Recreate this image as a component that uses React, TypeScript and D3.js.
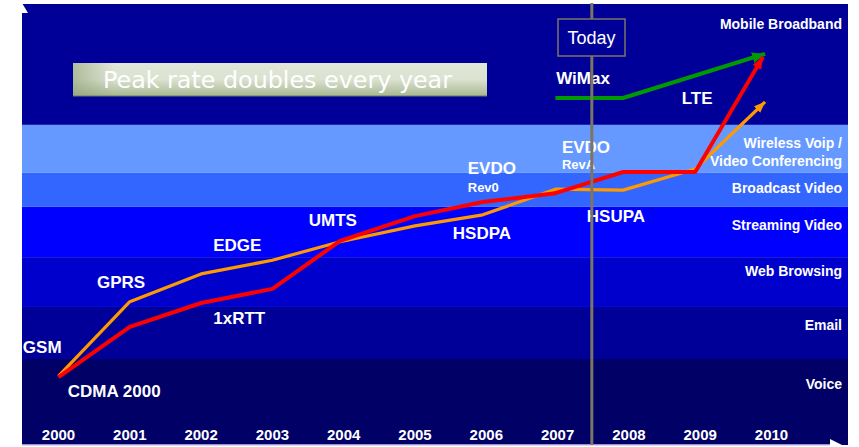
import React from "react";
import * as d3 from "d3";

const W = 859;
const H = 447;

// x-axis tick labels
const yearTicks = [2000, 2001, 2002, 2003, 2004, 2005, 2006, 2007, 2008, 2009, 2010];

// application bands (value scale 0-100, bottom to top)
const bandNames = ["Voice", "Email", "Web Browsing", "Streaming Video", "Broadcast Video", "Wireless Voip /\nVideo Conferencing", "Mobile Broadband"];
const bandLower = [0, 19.5, 31.3, 42.6, 54.0, 61.7, 72.6];
const bandUpper = [19.5, 31.3, 42.6, 54.0, 61.7, 72.6, 100];
const bandColors = ["#000066", "#000099", "#0000CC", "#0000FF", "#3366FF", "#6699FF", "#000099"];
const bandLabelValue = [12.8, 26.1, 38.4, 48.8, 57.1, 67.4, 94.4];

// GSM family (orange)
const gsmYears = [2000, 2001, 2002, 2003, 2003.95, 2005, 2005.95, 2006.97, 2007.92, 2008.93, 2009.91];
const gsmValues = [15.6, 32.5, 38.8, 41.9, 46.1, 49.7, 52.2, 58.0, 57.8, 62.6, 77.8];

// CDMA family (red)
const cdmaYears = [2000, 2001, 2002, 2003, 2003.95, 2005, 2005.95, 2006.97, 2007.92, 2008.93, 2009.88];
const cdmaValues = [15.4, 26.8, 32.2, 35.4, 46.3, 51.9, 55.1, 57.1, 61.9, 61.9, 88.0];

// WiMax (green)
const wimaxYears = [2006.97, 2007.92, 2009.91];
const wimaxValues = [78.7, 78.7, 88.7];

// technology labels (anchored at year / value)
const techNames = ["GSM", "CDMA 2000", "GPRS", "1xRTT", "EDGE", "UMTS", "HSDPA", "EVDO", "Rev0", "EVDO", "RevA", "HSUPA", "WiMax", "LTE"];
const techYears = [1999.5, 2000.13, 2000.54, 2002.17, 2002.17, 2003.51, 2005.53, 2005.74, 2005.74, 2007.06, 2007.06, 2007.41, 2006.98, 2008.74];
const techValues = [20.9, 10.9, 35.6, 27.4, 44.0, 49.7, 46.7, 61.5, 57.4, 66.2, 62.6, 50.6, 81.9, 77.3];
const techSmall = [false, false, false, false, false, false, false, false, true, false, true, false, false, false];

const todayYear = 2007.48;
const headline = "Peak rate doubles every year";

export default function App() {
  const left = 22;
  const right = 848;
  const top = 4;
  const bottom = 445;

  const x = d3.scaleLinear().domain([2000, 2010]).range([58.5, 771.5]);
  const y = d3.scaleLinear().domain([0, 100]).range([bottom, top]);

  const line = d3
    .line<[number, number]>()
    .x((d) => x(d[0]))
    .y((d) => y(d[1]));

  const gsm = line(gsmYears.map((yr, i) => [yr, gsmValues[i]]));
  const cdma = line(cdmaYears.map((yr, i) => [yr, cdmaValues[i]]));
  const wimax = line(wimaxYears.map((yr, i) => [yr, wimaxValues[i]]));

  const font = "'Liberation Sans', Arial, sans-serif";
  const tx = x(todayYear);

  return (
    <svg
      width={W}
      height={H}
      style={{ position: "absolute", left: 0, top: 0, background: "#fff" }}
      xmlns="http://www.w3.org/2000/svg"
    >
      <defs>
        <marker id="arRed" markerUnits="userSpaceOnUse" markerWidth="14" markerHeight="12" refX="12" refY="5" orient="auto">
          <path d="M0,0 L12,5 L0,10 z" fill="#FF0000" />
        </marker>
        <marker id="arOrange" markerUnits="userSpaceOnUse" markerWidth="14" markerHeight="12" refX="11" refY="4.5" orient="auto">
          <path d="M0,0 L11,4.5 L0,9 z" fill="#FF9900" />
        </marker>
        <marker id="arGreen" markerUnits="userSpaceOnUse" markerWidth="16" markerHeight="14" refX="13" refY="5.5" orient="auto">
          <path d="M0,0 L13,5.5 L0,11 z" fill="#009900" />
        </marker>
        <linearGradient id="boxGrad" x1="0" y1="0" x2="0" y2="1">
          <stop offset="0%" stopColor="#e2e7d9" />
          <stop offset="50%" stopColor="#dbe2d0" />
          <stop offset="100%" stopColor="#a8b792" />
        </linearGradient>
        <linearGradient id="boxGradH" x1="0" y1="0" x2="1" y2="0">
          <stop offset="0%" stopColor="#8fa077" stopOpacity="0.6" />
          <stop offset="10%" stopColor="#8fa077" stopOpacity="0" />
          <stop offset="100%" stopColor="#8fa077" stopOpacity="0" />
        </linearGradient>
      </defs>

      {/* bands */}
      {bandNames.map((name, i) => (
        <rect
          key={"b" + i}
          x={left}
          y={y(bandUpper[i])}
          width={right - left}
          height={y(bandLower[i]) - y(bandUpper[i])}
          fill={bandColors[i]}
        />
      ))}

      {/* band labels */}
      {bandNames.map((name, i) => {
        const lines = name.split("\n");
        const baseY = y(bandLabelValue[i]);
        return (
          <text
            key={"bl" + i}
            x={842}
            y={baseY}
            textAnchor="end"
            fill="#ffffff"
            fontFamily={font}
            fontWeight="bold"
            fontSize={14}
          >
            {lines.map((l, j) => (
              <tspan key={j} x={842} dy={j === 0 ? 0 : 18}>
                {l}
              </tspan>
            ))}
          </text>
        );
      })}

      {/* axes decorations */}
      <line x1={left} x2={832} y1={bottom} y2={bottom} stroke="#c8c8f0" strokeWidth={1.5} />
      <polygon points={`830,439 846,447 830,447`} fill="#ffffff" />
      <polygon points={`${left},3 ${left + 6},13 ${left},13`} fill="#ffffff" />

      {/* headline box */}
      <rect x={73} y={63} width={414} height={33} fill="url(#boxGrad)" />
      <rect x={73} y={63} width={414} height={33} fill="url(#boxGradH)" />
      <line x1={73} x2={487} y1={96} y2={96} stroke="#6f7d5c" strokeWidth={1.2} />
      <text
        x={103}
        y={88}
        fill="#ffffff"
        fontFamily="'DejaVu Sans', Verdana, sans-serif"
        fontSize={23.5}
        textLength={349}
        lengthAdjust="spacingAndGlyphs"
      >
        {headline}
      </text>

      {/* lines */}
      <path d={wimax ?? ""} fill="none" stroke="#009900" strokeWidth={4} markerEnd="url(#arGreen)" />
      <path d={gsm ?? ""} fill="none" stroke="#FF9900" strokeWidth={3.2} strokeLinejoin="round" markerEnd="url(#arOrange)" />
      <path d={cdma ?? ""} fill="none" stroke="#FF0000" strokeWidth={4} strokeLinejoin="round" markerEnd="url(#arRed)" />

      {/* tech labels */}
      {techNames.map((t, i) => (
        <text
          key={"t" + i}
          x={x(techYears[i])}
          y={y(techValues[i])}
          fill="#ffffff"
          fontFamily={font}
          fontWeight="bold"
          fontSize={techSmall[i] ? 13 : 17}
        >
          {t}
        </text>
      ))}

      {/* year ticks */}
      {yearTicks.map((yr) => (
        <text
          key={"y" + yr}
          x={x(yr)}
          y={440}
          textAnchor="middle"
          fill="#ffffff"
          fontFamily={font}
          fontWeight="bold"
          fontSize={15}
        >
          {yr}
        </text>
      ))}

      {/* today line + box */}
      <line x1={tx} x2={tx} y1={3} y2={bottom} stroke="#7B7561" strokeWidth={3} />
      <rect x={558} y={19} width={67} height={37} fill="#000099" stroke="#7B7561" strokeWidth={1.5} />
      <text x={591.5} y={44} textAnchor="middle" fill="#ffffff" fontFamily={font} fontSize={18}>
        Today
      </text>
    </svg>
  );
}
